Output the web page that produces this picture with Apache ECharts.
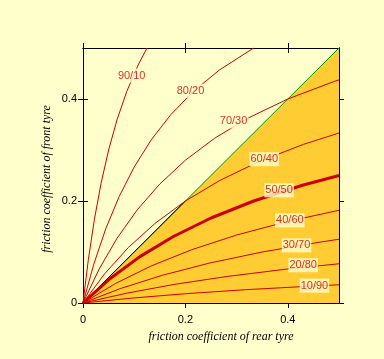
<!DOCTYPE html>
<html>
<head>
<meta charset="utf-8">
<script src="https://cdn.jsdelivr.net/npm/echarts@6/dist/echarts.min.js"></script>
<style>
html,body{margin:0;padding:0;background:#FFFFCC;}
#c{width:384px;height:359px;}
</style>
</head>
<body>
<div id="c"></div>
<script>
// Brake-force distribution curves (front/rear), points [rear mu, front mu]
const curve90_10 = [[0,0],[0.0105,0.0857],[0.0222,0.1636],[0.0353,0.2348],[0.05,0.30],[0.0667,0.36],[0.0857,0.4154],[0.1077,0.4667],[0.125,0.5]];
const curve80_20 = [[0,0],[0.0211,0.0762],[0.0444,0.1455],[0.0706,0.2087],[0.10,0.2667],[0.1333,0.32],[0.1714,0.3692],[0.2154,0.4148],[0.2667,0.4571],[0.3333,0.5]];
const curve70_30 = [[0,0],[0.0316,0.0667],[0.0667,0.1273],[0.1059,0.1826],[0.15,0.2333],[0.20,0.28],[0.2571,0.3231],[0.3231,0.3630],[0.40,0.40],[0.4909,0.4345],[0.5,0.4375]];
const curve60_40 = [[0,0],[0.0421,0.0571],[0.0889,0.1091],[0.1412,0.1565],[0.20,0.20],[0.2667,0.24],[0.3429,0.2769],[0.4308,0.3111],[0.5,0.3333]];
const curve50_50 = [[0,0],[0.0526,0.0476],[0.1111,0.0909],[0.1765,0.1304],[0.25,0.1667],[0.3333,0.20],[0.4286,0.2308],[0.5,0.25]];
const curve40_60 = [[0,0],[0.0632,0.0381],[0.1333,0.0727],[0.2118,0.1043],[0.30,0.1333],[0.40,0.16],[0.5,0.1818]];
const curve30_70 = [[0,0],[0.0737,0.0286],[0.1556,0.0545],[0.2471,0.0783],[0.35,0.10],[0.4667,0.12],[0.5,0.125]];
const curve20_80 = [[0,0],[0.0842,0.019],[0.1778,0.0364],[0.2824,0.0522],[0.40,0.0667],[0.5,0.0769]];
const curve10_90 = [[0,0],[0.0947,0.0095],[0.20,0.0182],[0.3176,0.0261],[0.45,0.0333],[0.5,0.0357]];

const curveNames = ['90/10','80/20','70/30','60/40','50/50','40/60','30/70','20/80','10/90'];
const curves = [curve90_10,curve80_20,curve70_30,curve60_40,curve50_50,curve40_60,curve30_70,curve20_80,curve10_90];
// label anchor points on each curve [rear mu, front mu]
const labelPos = [[0.095,0.446],[0.210,0.416],[0.294,0.356],[0.354,0.282],[0.383,0.221],[0.404,0.162],[0.417,0.113],[0.430,0.074],[0.452,0.034]];

const diagonal = [[0,0],[0.5,0.5]];
const diagonalLow = [[0,0],[0.2,0.2]];
const tickValues = [0,0.2,0.4];
const axisMin = 0, axisMax = 0.5;

const RED = '#CC0000';
const chart = echarts.init(document.getElementById('c'), null, {renderer:'canvas'});

function mkAxis(pos, inside, labels){
  return {
    type:'value', position:pos, min:axisMin, max:axisMax,
    axisLine:{show:true, onZero:false, lineStyle:{color:'#000', width:1}},
    axisTick:{show:true, inside:inside, length:5, customValues:tickValues, lineStyle:{color:'#000'}},
    axisLabel:{show:labels, customValues:tickValues, color:'#000', fontSize:11, fontFamily:'Liberation Sans',
      margin:(pos==='bottom'?11:6), formatter:v=>String(v)},
    splitLine:{show:false}
  };
}

const series = [];
series.push({type:'line', data:diagonal, showSymbol:false, lineStyle:{width:0, color:'#FFCC33'},
  areaStyle:{color:'#FFCC33', opacity:1}, z:1, silent:true});
series.push({type:'line', data:diagonal, showSymbol:false, lineStyle:{width:1, color:'#009900'}, z:2, silent:true});
series.push({type:'line', data:diagonalLow, showSymbol:false, lineStyle:{width:1, color:'#000000'}, z:2, silent:true});
curves.forEach((c,i)=>{
  series.push({type:'line', data:c, showSymbol:false, smooth:false,
    lineStyle:{width:(curveNames[i]==='50/50'?3:1), color:RED}, z:3, silent:true});
});
series.push({type:'scatter', symbolSize:0, z:5, silent:true,
  data: labelPos.map((p,i)=>({name:curveNames[i], value:p})),
  label:{show:true, position:'inside', formatter:p=>p.name, color:RED, fontSize:11,
    fontFamily:'Liberation Sans', backgroundColor:'#FFFFCC', padding:[1,1,1,1], lineHeight:12}
});

chart.setOption({
  animation:false,
  backgroundColor:'#FFFFCC',
  grid:{left:83, top:48, width:256, height:255, containLabel:false},
  xAxis:[mkAxis('bottom',false,true), mkAxis('bottom',true,false), mkAxis('top',false,false), mkAxis('top',true,false)],
  yAxis:[mkAxis('left',false,true), mkAxis('left',true,false), mkAxis('right',false,false), mkAxis('right',true,false)],
  series:series,
  graphic:[
    {type:'text', x:221, y:337, style:{text:'friction coefficient of rear tyre', fill:'#000',
      font:'italic 12px "Liberation Serif"', textAlign:'center', textVerticalAlign:'middle'}},
    {type:'text', x:47, y:179, rotation:Math.PI/2, style:{text:'friction coefficient of front tyre', fill:'#000',
      font:'italic 12px "Liberation Serif"', textAlign:'center', textVerticalAlign:'middle'}}
  ]
});
</script>
</body>
</html>
